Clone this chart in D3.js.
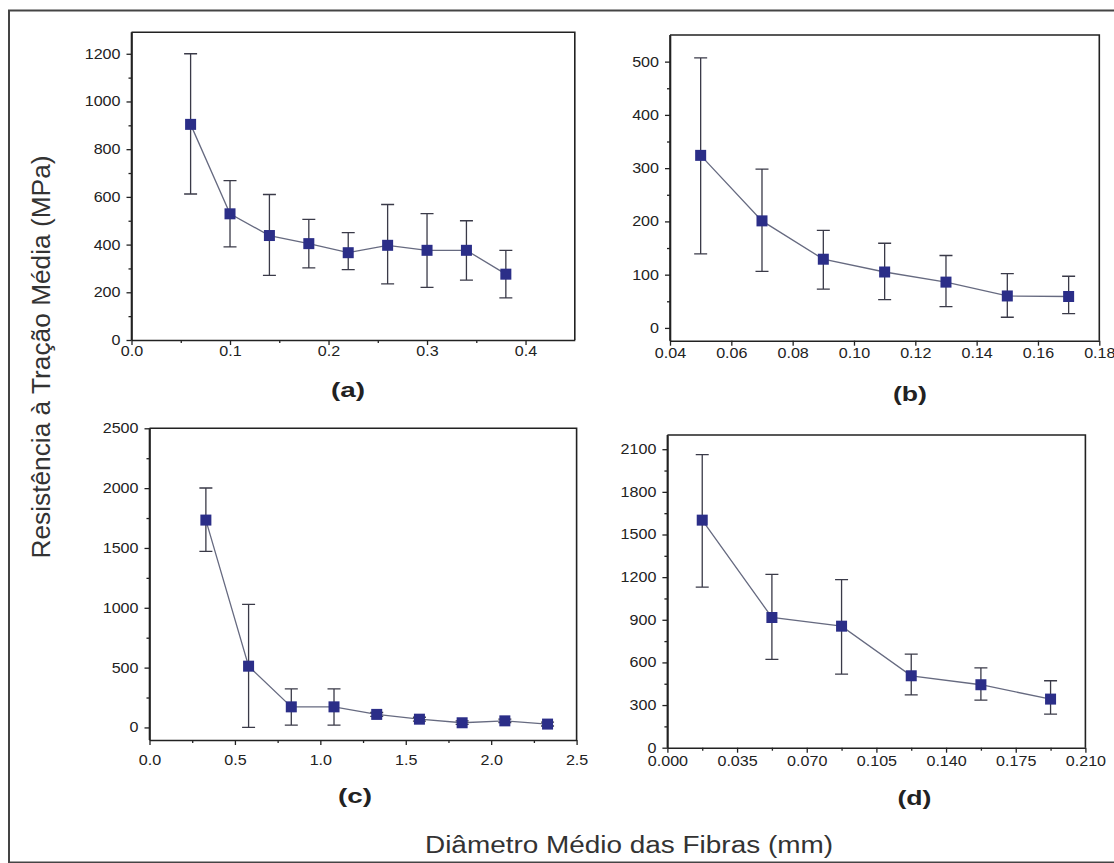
<!DOCTYPE html>
<html>
<head>
<meta charset="utf-8">
<script src="https://cdn.jsdelivr.net/npm/d3@7/dist/d3.min.js"></script>
<style>
    body { margin: 0; background: #fff; }
    text { font-family: "Liberation Sans", Arial, sans-serif; }
</style>
</head>
<body>
<svg id="fig" width="1114" height="863"></svg>
<script>
// painel (a)
const diamA = [0.06, 0.10, 0.14, 0.18, 0.22, 0.26, 0.30, 0.34, 0.38];
const resA = [904, 529, 438, 404, 366, 397, 376, 376, 276];
const resHiA = [1200, 668, 610, 506, 450, 568, 530, 500, 376];
const resLoA = [612, 390, 271, 302, 295, 235, 221, 251, 177];
const xTicksA = [0, 0.1, 0.2, 0.3, 0.4];
const yTicksA = [0, 200, 400, 600, 800, 1000, 1200];

// painel (b)
const diamB = [0.05, 0.07, 0.09, 0.11, 0.13, 0.15, 0.17];
const resB = [324, 201, 129, 105, 86, 60, 59];
const resHiB = [507, 298, 183, 159, 136, 102, 97];
const resLoB = [139, 106, 73, 53, 40, 20, 27];
const xTicksB = [0.04, 0.06, 0.08, 0.10, 0.12, 0.14, 0.16, 0.18];
const yTicksB = [0, 100, 200, 300, 400, 500];

// painel (c)
const diamC = [0.33, 0.58, 0.83, 1.08, 1.33, 1.58, 1.83, 2.08, 2.33];
const resC = [1733, 512, 172, 172, 109, 69, 39, 55, 28];
const resHiC = [2001, 1028, 323, 323, 125, 85, 55, 70, 45];
const resLoC = [1471, 0, 19, 19, 93, 53, 25, 40, 12];
const xTicksC = [0, 0.5, 1.0, 1.5, 2.0, 2.5];
const yTicksC = [0, 500, 1000, 1500, 2000, 2500];

// painel (d)
const diamD = [0.0175, 0.0525, 0.0875, 0.1225, 0.1575, 0.1925];
const resD = [1601, 916, 855, 506, 443, 342];
const resHiD = [2062, 1220, 1182, 659, 561, 471];
const resLoD = [1130, 621, 518, 372, 335, 236];
const xTicksD = [0, 0.035, 0.070, 0.105, 0.140, 0.175, 0.210];
const yTicksD = [0, 300, 600, 900, 1200, 1500, 1800, 2100];

const yTitle = 'Resistência à Tração Média (MPa)';
const xTitle = 'Diâmetro Médio das Fibras (mm)';

let svg = d3.select('#fig');

// moldura externa
svg.append('rect')
    .attr('x', 9).attr('y', 10.5)
    .attr('width', 1115).attr('height', 852)
    .attr('fill', 'none')
    .attr('stroke', '#444')
    .attr('stroke-width', 2);

let panels = [
    {name: '(a)', x: diamA, y: resA, hi: resHiA, lo: resLoA,
     box: [131.5, 32.3, 574.8, 340], xDom: [0, 0.45], yDom: [0, 1290],
     xTicks: xTicksA, yTicks: yTicksA, xFmt: '.1f', xMinor: true, gap: 6, lab: [348, 397]},
    {name: '(b)', x: diamB, y: resB, hi: resHiB, lo: resLoB,
     box: [670, 35, 1099.3, 340.7], xDom: [0.04, 0.18], yDom: [-24, 550],
     xTicks: xTicksB, yTicks: yTicksB, xFmt: '.2f', xMinor: false, gap: 7, lab: [910, 401]},
    {name: '(c)', x: diamC, y: resC, hi: resHiC, lo: resLoC,
     box: [149.5, 428.3, 576.6, 740], xDom: [0, 2.5], yDom: [-105, 2500],
     xTicks: xTicksC, yTicks: yTicksC, xFmt: '.1f', xMinor: true, gap: 15, lab: [355, 803]},
    {name: '(d)', x: diamD, y: resD, hi: resHiD, lo: resLoD,
     box: [667.4, 435, 1085.4, 747.7], xDom: [0, 0.21], yDom: [0, 2200],
     xTicks: xTicksD, yTicks: yTicksD, xFmt: '.3f', xMinor: true, gap: 8, lab: [914.5, 805]}
];

function midpoints(ticks, dom) {
    let step = ticks[1] - ticks[0];
    return ticks.map(function (v) { return v + step / 2; })
        .filter(function (v) { return v > dom[0] && v < dom[1]; });
}

let stretch = 1.15; // rótulos um pouco alargados como no original

panels.forEach(function (p) {
    let L = p.box[0], T = p.box[1], R = p.box[2], B = p.box[3];
    let g = svg.append('g');

    let xs = d3.scaleLinear().domain(p.xDom).range([L, R]);
    let ys = d3.scaleLinear().domain(p.yDom).range([B, T]);

    // eixos principais
    let ax = g.append('g')
        .attr('transform', 'translate(0,' + B + ')')
        .call(d3.axisBottom(xs).tickValues(p.xTicks)
            .tickFormat(d3.format(p.xFmt)).tickSize(5).tickSizeOuter(0).tickPadding(0));
    ax.selectAll('text').attr('y', p.gap).attr('dy', '0.72em');

    let ay = g.append('g')
        .attr('transform', 'translate(' + L + ',0)')
        .call(d3.axisLeft(ys).tickValues(p.yTicks).tickFormat(d3.format('d'))
            .tickSize(5).tickSizeOuter(0).tickPadding(0));
    ay.selectAll('text').attr('x', -11 / stretch);

    // tracinhos menores
    if (p.xMinor) {
        g.append('g')
            .attr('transform', 'translate(0,' + B + ')')
            .call(d3.axisBottom(xs).tickValues(midpoints(p.xTicks, p.xDom)).tickSize(3).tickFormat(''))
            .select('.domain').remove();
    }
    g.append('g')
        .attr('transform', 'translate(' + L + ',0)')
        .call(d3.axisLeft(ys).tickValues(midpoints(p.yTicks, p.yDom)).tickSize(3).tickFormat(''))
        .select('.domain').remove();

    g.selectAll('.tick line').attr('stroke', '#222').attr('stroke-width', 1.3);
    g.selectAll('.domain').attr('stroke', '#222').attr('stroke-width', 1.6);
    g.selectAll('.tick text')
        .attr('font-size', 14)
        .attr('fill', '#222')
        .attr('transform', 'scale(' + stretch + ',1)');

    // topo e lado direito da caixa
    g.append('path')
        .attr('d', 'M' + L + ',' + T + 'H' + R + 'V' + B)
        .attr('fill', 'none')
        .attr('stroke', '#222')
        .attr('stroke-width', 1.6);
    g.append('path')
        .attr('d', 'M' + L + ',' + B + 'V' + T)
        .attr('stroke', '#222')
        .attr('stroke-width', 1.6);

    let pts = p.x.map(function (d, i) {
        return {x: d, y: p.y[i], hi: p.hi[i], lo: p.lo[i]};
    });

    // linha ligando as médias
    g.append('path')
        .datum(pts)
        .attr('d', d3.line().x(function (d) { return xs(d.x); }).y(function (d) { return ys(d.y); }))
        .attr('fill', 'none')
        .attr('stroke', '#666a80')
        .attr('stroke-width', 1.3);

    // barras de erro
    g.selectAll('.err')
        .data(pts)
        .enter()
        .append('path')
        .attr('class', 'err')
        .attr('d', function (d) {
            let cx = xs(d.x), y1 = ys(d.hi), y0 = ys(d.lo);
            return 'M' + (cx - 6.5) + ',' + y1 + 'H' + (cx + 6.5) +
                'M' + cx + ',' + y1 + 'V' + y0 +
                'M' + (cx - 6.5) + ',' + y0 + 'H' + (cx + 6.5);
        })
        .attr('fill', 'none')
        .attr('stroke', '#3a3a48')
        .attr('stroke-width', 1.3);

    // marcadores quadrados
    let sz = 11;
    g.selectAll('.mk')
        .data(pts)
        .enter()
        .append('rect')
        .attr('class', 'mk')
        .attr('x', function (d) { return xs(d.x) - sz / 2; })
        .attr('y', function (d) { return ys(d.y) - sz / 2; })
        .attr('width', sz)
        .attr('height', sz)
        .attr('fill', '#2b2e88');

    // rótulo do painel
    g.append('text')
        .attr('x', p.lab[0])
        .attr('y', p.lab[1])
        .attr('text-anchor', 'middle')
        .attr('font-size', 20)
        .attr('font-weight', 'bold')
        .attr('fill', '#222')
        .attr('textLength', 34)
        .attr('lengthAdjust', 'spacingAndGlyphs')
        .text(p.name);
});

// títulos dos eixos
svg.append('text')
    .attr('transform', 'translate(50,357) rotate(-90)')
    .attr('text-anchor', 'middle')
    .attr('font-size', 25)
    .attr('fill', '#333')
    .attr('textLength', 403)
    .attr('lengthAdjust', 'spacingAndGlyphs')
    .text(yTitle);

svg.append('text')
    .attr('x', 425)
    .attr('y', 853)
    .attr('font-size', 23)
    .attr('fill', '#333')
    .attr('textLength', 408)
    .attr('lengthAdjust', 'spacingAndGlyphs')
    .text(xTitle);
</script>
</body>
</html>
